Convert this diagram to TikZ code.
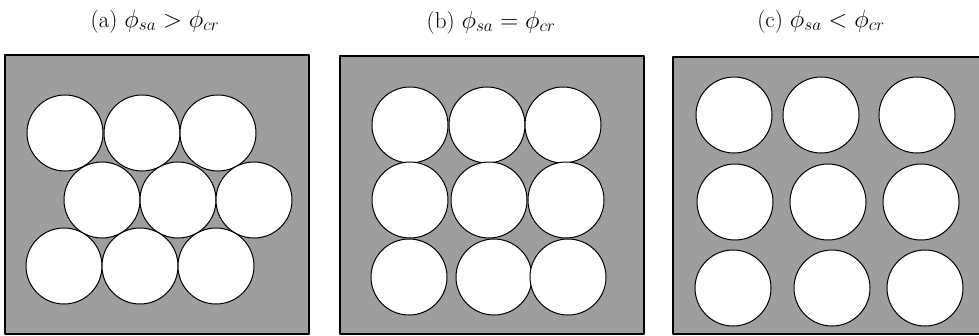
\documentclass[tikz,border=0pt]{standalone}
\begin{document}
\begin{tikzpicture}[x=1pt, y=-1pt, line join=round, line cap=round]
			\useasboundingbox (0,0) rectangle (979,335);
			\tikzset{cell/.style={draw=black, line width=1.3pt, fill=black!38},
				grain/.style={draw=black, line width=1pt, fill=white},
				caption/.style={font=\fontsize{23}{26}\selectfont, anchor=base}}
			% panel frames
			\draw[cell] (5,55) rectangle (309,334);
			\draw[cell] (340,56) rectangle (644,334);
			\draw[cell] (673,57) rectangle (982,334);
			% captions
			\node[caption] (capA) at (155,27) {(a) $\phi_{sa}>\phi_{cr}$};
			\node[caption] (capB) at (491,28) {(b) $\phi_{sa}=\phi_{cr}$};
			\node[caption] (capC) at (821,27) {(c) $\phi_{sa}<\phi_{cr}$};
			% (a) close packing
			\foreach \x/\y in {65/133, 142/133, 218/133, 102/200, 178/200, 254/200, 64/266, 140/266, 216/266}
				\draw[grain] (\x,\y) circle (38);
			% (b) square contact
			\foreach \x/\y in {410/125, 487/125, 563/125, 410/200, 489/200, 566/200, 409/277, 494/277, 568/277}
				\draw[grain] (\x,\y) circle (38);
			% (c) loose packing
			\foreach \x/\y in {734/115, 821/115, 917/115, 735/202, 828/202, 921/202, 733/288, 832/288, 925/288}
				\draw[grain] (\x,\y) circle (38);
		\end{tikzpicture}
\end{document}
